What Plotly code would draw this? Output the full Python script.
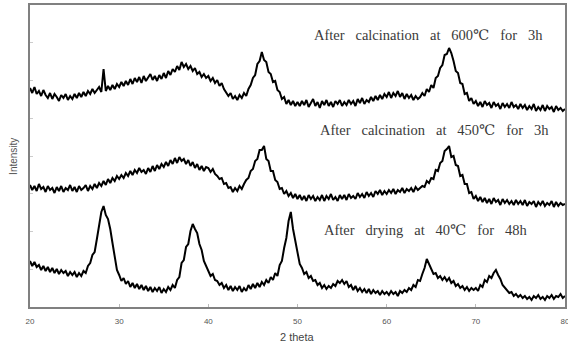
import numpy as np
import plotly.graph_objects as go

# 2-theta grid (degrees), step 0.25
two_theta = [20 + 0.25 * i for i in range(241)]

# Intensity (arbitrary units)
calc600 = [
    219, 214, 220, 213, 216, 211, 217, 212, 209, 214, 208, 213, 210, 206, 212, 209, 213, 207, 211, 208,
    213, 209, 214, 210, 215, 211, 216, 213, 218, 214, 217, 220, 215, 238, 216, 221, 217, 222, 218, 223,
    220, 225, 221, 226, 222, 228, 223, 229, 225, 230, 224, 231, 226, 229, 233, 227, 231, 226, 232, 228,
    234, 229, 236, 232, 238, 235, 241, 237, 245, 240, 243, 238, 241, 236, 239, 233, 235, 230, 233, 229,
    231, 226, 229, 224, 227, 221, 224, 218, 215, 211, 214, 208, 211, 207, 212, 209, 214, 211, 218, 222,
    229, 232, 243, 246, 255, 247, 245, 235, 233, 225, 226, 217, 215, 208, 210, 203, 207, 202, 206, 201,
    205, 201, 206, 202, 207, 200, 204, 208, 201, 205, 199, 206, 202, 207, 201, 205, 200, 206, 203, 207,
    201, 205, 202, 207, 203, 206, 201, 208, 204, 209, 203, 207, 205, 210, 206, 211, 207, 212, 208, 213,
    210, 215, 209, 214, 211, 216, 210, 214, 208, 213, 209, 212, 207, 211, 208, 210, 214, 211, 218, 215,
    222, 219, 229, 231, 239, 242, 252, 253, 259, 254, 246, 236, 234, 224, 223, 213, 214, 206, 209, 203,
    206, 201, 205, 200, 206, 202, 204, 199, 205, 201, 203, 198, 204, 200, 203, 199, 205, 200, 202, 198,
    203, 199, 202, 197, 201, 198, 203, 196, 200, 197, 202, 196, 201, 198, 200, 195, 201, 197, 199, 196,
    198,
]

calc450 = [
    122, 117, 121, 116, 123, 118, 120, 115, 121, 117, 119, 114, 120, 116, 121, 115, 119, 117, 122, 116,
    120, 115, 121, 117, 119, 122, 116, 121, 118, 123, 119, 124, 121, 126, 122, 128, 124, 129, 126, 131,
    128, 132, 129, 134, 131, 136, 132, 137, 134, 139, 135, 137, 133, 139, 135, 141, 136, 142, 138, 143,
    140, 145, 141, 147, 143, 149, 144, 150, 146, 148, 143, 147, 141, 145, 139, 143, 137, 141, 136, 140,
    139, 135, 138, 133, 131, 128, 129, 123, 124, 119, 120, 115, 119, 116, 121, 118, 123, 127, 129, 136,
    138, 146, 148, 157, 157, 161, 148, 146, 136, 136, 127, 125, 118, 119, 113, 116, 111, 114, 109, 113,
    108, 112, 107, 111, 106, 112, 108, 111, 106, 110, 107, 112, 106, 111, 108, 113, 107, 110, 106, 112,
    108, 112, 107, 113, 109, 111, 108, 114, 110, 113, 109, 115, 111, 114, 110, 116, 113, 117, 112, 116,
    113, 117, 114, 118, 113, 117, 115, 119, 114, 118, 116, 119, 115, 120, 117, 119, 121, 120, 126, 124,
    129, 128, 137, 136, 144, 146, 156, 158, 161, 150, 151, 142, 141, 131, 132, 123, 123, 114, 115, 108,
    111, 106, 110, 105, 109, 104, 108, 103, 109, 105, 107, 102, 108, 104, 107, 103, 106, 102, 107, 103,
    106, 102, 107, 101, 105, 103, 106, 100, 105, 102, 106, 101, 104, 102, 106, 100, 105, 101, 104, 102,
    103,
]

dried40 = [
    46, 41, 45, 40, 42, 37, 41, 36, 40, 35, 39, 34, 38, 33, 37, 34, 36, 31, 35, 32,
    35, 30, 34, 31, 36, 34, 41, 44, 52, 55, 68, 80, 95, 101, 92, 88, 78, 64, 50, 37,
    32, 26, 29, 23, 26, 20, 24, 19, 23, 18, 22, 17, 21, 16, 20, 15, 19, 16, 20, 14,
    18, 15, 20, 17, 22, 19, 27, 30, 44, 47, 60, 63, 76, 83, 78, 74, 63, 57, 46, 41,
    37, 31, 33, 27, 26, 22, 24, 19, 22, 17, 21, 16, 20, 17, 21, 15, 19, 16, 22, 18,
    23, 19, 24, 20, 25, 22, 27, 24, 30, 27, 34, 31, 42, 46, 59, 69, 86, 95, 78, 66,
    54, 43, 39, 33, 35, 29, 31, 26, 27, 22, 24, 19, 22, 18, 21, 19, 23, 21, 26, 24,
    27, 23, 26, 20, 22, 17, 21, 16, 19, 15, 18, 14, 18, 13, 17, 14, 16, 12, 16, 13,
    15, 12, 16, 13, 15, 11, 16, 14, 17, 15, 19, 17, 22, 20, 27, 26, 33, 39, 48, 43,
    37, 33, 34, 29, 31, 27, 30, 26, 29, 24, 26, 21, 23, 19, 21, 17, 20, 16, 19, 17,
    19, 16, 22, 20, 27, 25, 31, 29, 34, 37, 32, 28, 22, 19, 17, 14, 15, 11, 13, 10,
    12, 9, 11, 8, 10, 7, 11, 9, 12, 8, 10, 7, 11, 9, 12, 8, 11, 10, 13, 9,
    11,
]

series = [calc600, calc450, dried40]
GAP = "\u00a0\u00a0 "
labels = [
    GAP.join(["After", "calcination", "at", "600\u2103", "for", "3h"]),
    GAP.join(["After", "calcination", "at", "450\u2103", "for", "3h"]),
    GAP.join(["After", "drying", "at", "40\u2103", "for", "48h"]),
]
x_ticks = [20, 30, 40, 50, 60, 70, 80]

fig = go.Figure()
for s in series:
    fig.add_trace(go.Scatter(x=two_theta, y=s, mode="lines",
                             line=dict(color="black", width=2),
                             showlegend=False, hoverinfo="skip"))

label_pos = [(0.527, 0.900), (0.538, 0.585), (0.546, 0.255)]
for txt, (px, py) in zip(labels, label_pos):
    fig.add_annotation(text=txt, x=px, y=py, xref="paper", yref="paper",
                       xanchor="left", yanchor="middle", showarrow=False,
                       font=dict(family="Liberation Serif, DejaVu Serif, serif",
                                 size=14.5, color="#3a3a3a"))

fig.add_annotation(text="2 theta", x=0.5, y=-0.099, xref="paper", yref="paper",
                   xanchor="center", yanchor="middle", showarrow=False,
                   font=dict(family="Liberation Sans, Arial, sans-serif", size=11, color="#444"))
fig.add_annotation(text="Intensity", x=-0.032, y=0.5, xref="paper", yref="paper",
                   xanchor="center", yanchor="middle", showarrow=False, textangle=-90,
                   font=dict(family="Liberation Sans, Arial, sans-serif", size=10, color="#555"))

fig.update_layout(
    width=568, height=348,
    margin=dict(l=30, r=3, t=5, b=41, autoexpand=False),
    paper_bgcolor="white", plot_bgcolor="white",
    xaxis=dict(range=[20, 80], tickvals=x_ticks, ticks="inside", ticklen=3,
               tickcolor="#bbb", showgrid=False, zeroline=False, automargin=False,
               showline=True, linecolor="#808080", linewidth=1.5, mirror=True,
               tickfont=dict(family="Liberation Sans, Arial, sans-serif", size=8, color="#555"),
               ticklabelstandoff=6, ticklabeloverflow="allow"),
    yaxis=dict(range=[0, 302], dtick=37.75, tick0=0, ticks="inside", ticklen=3,
               tickcolor="#ccc", showticklabels=False, showgrid=False, zeroline=False,
               automargin=False,
               showline=True, linecolor="#808080", linewidth=1.5, mirror=True),
)

fig.write_html("out.html")
